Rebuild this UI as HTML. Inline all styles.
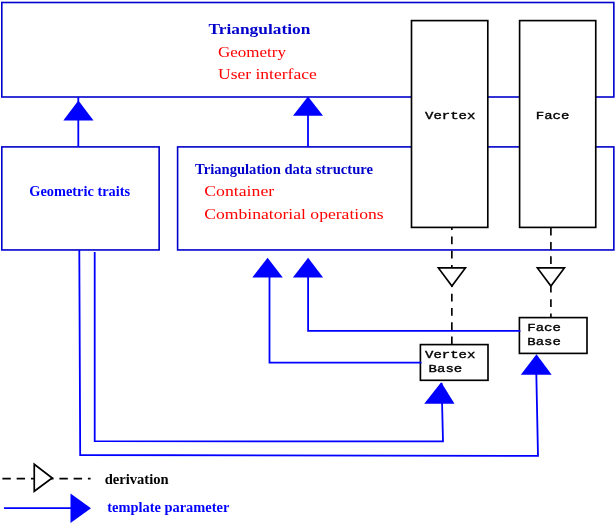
<!DOCTYPE html>
<html>
<head>
<meta charset="utf-8">
<title>Triangulation design</title>
<style>
html,body{margin:0;padding:0;background:#fff;}
svg{display:block;will-change:transform;}
.bx{stroke:#0000cc;stroke-width:1.6;fill:none;}
.b{stroke:#0000ff;stroke-width:1.8;fill:none;}
.bf{fill:#0000ff;stroke:none;}
.k{stroke:#000;stroke-width:1.65;fill:#fff;}
.kt{stroke:#000;stroke-width:1.7;fill:#fff;stroke-linejoin:miter;}
.kd{stroke:#000;stroke-width:1.65;fill:none;stroke-dasharray:7.7 6.6;}
.tb{font-family:"Liberation Serif",serif;font-weight:bold;font-size:14px;fill:#0000ff;}
.tr{font-family:"Liberation Serif",serif;font-size:14.6px;fill:#ff0000;}
.tm{font-family:"Liberation Mono",monospace;font-size:14px;fill:#000;stroke:#000;stroke-width:0.45;}
.tk{font-family:"Liberation Serif",serif;font-weight:bold;font-size:14px;fill:#000;}
</style>
</head>
<body>
<svg width="616" height="524" viewBox="0 0 616 524">
<rect width="616" height="524" fill="#fff"/>
<!-- blue boxes -->
<rect class="bx" x="1.800" y="2.500" width="612.050" height="94.500"/>
<rect class="bx" x="1.800" y="146.900" width="157.350" height="103.050"/>
<rect class="bx" x="177.600" y="146.900" width="436.250" height="103.050"/>
<!-- arrows up to Triangulation -->
<path class="b" d="M78.300 147V97"/>
<path class="bf" d="M78.400 100.500L93.500 120.500H63.300Z"/>
<path class="b" d="M308 147V114"/>
<path class="bf" d="M308 96.500L323 115.800H293Z"/>
<!-- arrows to TDS -->
<path class="bf" d="M267.600 257.800L282.800 277.500H252.300Z"/>
<path class="bf" d="M308.100 257.800L323.100 277.500H292.900Z"/>
<!-- arrows from traits -->
<path class="b" d="M94.700 252V441.200L443 441.400L441.600 383"/>
<path class="bf" d="M441.200 382.200L454.500 403.700H424.200Z"/>
<path class="b" d="M79.300 250L80.200 455L538 455.900L536.300 373"/>
<path class="bf" d="M536.500 354.200L551.700 374.800H520.800Z"/>
<!-- black boxes -->
<rect class="k" x="411.500" y="20.600" width="76.300" height="206.800"/>
<rect class="k" x="519.600" y="20.600" width="76.150" height="206.800"/>
<!-- dashed -->
<path class="kd" d="M451.850 227.600V344.800" style="stroke-dashoffset:5.400"/>
<path class="kd" d="M550.900 227.700V317"/>
<path class="kt" d="M438.400 267.900H465.400L451.900 286Z"/>
<path class="kt" d="M537.400 267.900H564.400L550.900 286Z"/>
<rect class="k" x="420.400" y="344.600" width="67.600" height="35.700"/>
<rect class="k" x="519.400" y="317.600" width="67.600" height="35.800"/>
<path class="b" d="M421.500 362.600H269.500V276"/>
<path class="b" d="M520.400 330.900H308.100V276"/>
<!-- legend -->
<path class="kd" d="M2.400 478.600H90.600" style="stroke-dasharray:8.4 5.850"/>
<path class="kt" d="M34.250 464.300V491.200L52.200 478Z"/>
<path class="b" d="M4 508.200H72"/>
<path class="bf" d="M70.500 493.400V523L91 508.200Z"/>
<!-- text -->
<text class="tb" x="208.500" y="34.200" style="font-size:15px;fill:#0000cc" textLength="101.800" lengthAdjust="spacingAndGlyphs">Triangulation</text>
<text class="tr" x="218" y="57" textLength="68" lengthAdjust="spacingAndGlyphs">Geometry</text>
<text class="tr" x="218" y="79" textLength="98.800" lengthAdjust="spacingAndGlyphs">User interface</text>
<text class="tb" x="195" y="173.800" style="fill:#0000cc" textLength="178" lengthAdjust="spacingAndGlyphs">Triangulation data structure</text>
<text class="tr" x="204.200" y="196" textLength="70" lengthAdjust="spacingAndGlyphs">Container</text>
<text class="tr" x="204.200" y="218.600" textLength="179.500" lengthAdjust="spacingAndGlyphs">Combinatorial operations</text>
<text class="tb" x="29.300" y="195.600" textLength="100.800" lengthAdjust="spacingAndGlyphs">Geometric traits</text>
<text class="tm" transform="translate(425.000,119.400) scale(1,0.82)">Vertex</text>
<text class="tm" transform="translate(535.800,119.400) scale(1,0.82)">Face</text>
<text class="tm" transform="translate(425.000,358.000) scale(1,0.82)">Vertex</text>
<text class="tm" transform="translate(428.600,372.000) scale(1,0.82)">Base</text>
<text class="tm" transform="translate(527.300,331.000) scale(1,0.82)">Face</text>
<text class="tm" transform="translate(527.300,345.000) scale(1,0.82)">Base</text>
<text class="tk" x="104.700" y="484.200" textLength="64" lengthAdjust="spacingAndGlyphs">derivation</text>
<text class="tb" x="107.300" y="511.800" textLength="122" lengthAdjust="spacingAndGlyphs">template parameter</text>
</svg>
</body>
</html>
